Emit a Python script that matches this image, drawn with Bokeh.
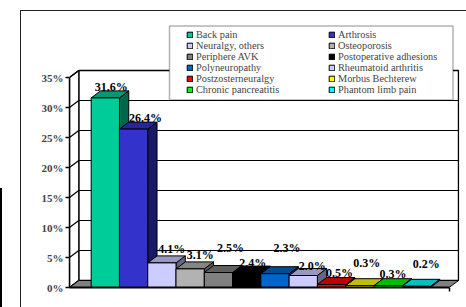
from bokeh.plotting import figure
from bokeh.models import (ColumnDataSource, FixedTicker, PrintfTickFormatter, Legend,
                          LegendItem, BoxAnnotation, Range1d, InlineStyleSheet)
from bokeh.core.properties import value
from bokeh.embed import file_html
from bokeh.resources import INLINE

# ---------------- data ----------------
categories = ["Back pain", "Arthrosis", "Neuralgy, others", "Osteoporosis",
              "Periphere AVK", "Postoperative adhesions", "Polyneuropathy",
              "Rheumatoid arthritis", "Postzosterneuralgy", "Morbus Bechterew",
              "Chronic pancreatitis", "Phantom limb pain"]
shares = [31.6, 26.4, 4.1, 3.1, 2.5, 2.4, 2.3, 2.0, 0.5, 0.3, 0.3, 0.2]
y_ticks = [0, 5, 10, 15, 20, 25, 30, 35]

# ---------------- styles / layout ----------------
colors = ["#00CC99", "#3333CC", "#CCCCFF", "#B2B2B2", "#808080", "#000000",
          "#0066CC", "#CCCCFF", "#FF0000", "#FFFF00", "#00FF00", "#00FFFF"]
label_dx = [6, 12, 10, 10, 12, 6, 12, 9, 8, 7, 5, 10]        # px nudges of value labels
label_dy = [-11, -11, -14, -14, -25, -10, -26, -10, -12, -23, -12, -22]

FONT = "Liberation Serif"
W, H = 466, 307
ML, MR, MT, MB = 69, 6, 12, 20
PX_CAT, PX_PCT = 28.275, 6.0
DX, DY = 9.3 / PX_CAT, 7.0 / PX_PCT          # oblique depth in data units
n = len(categories)
X_LEFT, X_RIGHT = -0.767, n + 0.66


def shade(hex_color, f):
    r, g, b = (int(hex_color[i:i + 2], 16) for i in (1, 3, 5))
    return "#%02x%02x%02x" % (int(r * f), int(g * f), int(b * f))


css = """
:host { position: relative; }
:host::before { content: ""; position: absolute; left: 19.5px; top: 9.5px;
  width: 446.5px; height: 297.5px; border-top: 1.5px solid #222;
  border-left: 1.5px solid #222; box-sizing: border-box; pointer-events: none; z-index: 5; }
:host::after { content: ""; position: absolute; left: 0px; top: 188px;
  width: 2px; height: 119px; background: #000; pointer-events: none; z-index: 5; }
"""

p = figure(width=W, height=H, output_backend="svg", toolbar_location=None,
           min_border_left=ML, min_border_right=MR, min_border_top=MT,
           min_border_bottom=MB,
           x_range=Range1d(X_LEFT, X_LEFT + (W - ML - MR) / PX_CAT),
           y_range=Range1d(0, (H - MT - MB) / PX_PCT),
           stylesheets=[InlineStyleSheet(css=css)])
p.outline_line_color = None
p.grid.visible = False
p.background_fill_color = "white"
p.border_fill_color = None

top = y_ticks[-1]
# back wall
p.patch([X_LEFT + DX, X_LEFT + DX, X_RIGHT + DX, X_RIGHT + DX],
        [DY, top + DY, top + DY, DY], fill_color="white", line_color="black", line_width=1.3)
# side wall
p.patch([X_LEFT, X_LEFT, X_LEFT + DX, X_LEFT + DX],
        [0, top, top + DY, DY], fill_color="white", line_color="black", line_width=1.3)
# grid lines on walls
p.multi_line([[X_LEFT, X_LEFT + DX, X_RIGHT + DX] for t in y_ticks],
             [[t, t + DY, t + DY] for t in y_ticks], line_color="black", line_width=1.2)
# floor
p.patch([X_LEFT, X_RIGHT, X_RIGHT + DX, X_LEFT + DX], [0, 0, DY, DY],
        fill_color="#808080", line_color="black", line_width=1)

# bars
idx = list(range(n))
side_xs = [[i + 1, i + 1, i + 1 + DX, i + 1 + DX] for i in idx]
side_ys = [[0, v, v + DY, DY] for v in shares]
top_xs = [[i, i + 1, i + 1 + DX, i + DX] for i in idx]
top_ys = [[v, v, v + DY, v + DY] for v in shares]
p.patches(side_xs, side_ys, fill_color=[shade(c, 0.5) for c in colors],
          line_color="black", line_width=1)
p.patches(top_xs, top_ys, fill_color=[shade(c, 0.75) for c in colors],
          line_color="black", line_width=1)
src = ColumnDataSource(dict(left=idx, right=[i + 1 for i in idx], top=shares,
                            color=colors, cat=categories))
fronts = p.quad(left="left", right="right", bottom=0, top="top", source=src,
                fill_color="color", line_color="black", line_width=1)

# value labels
lab = ColumnDataSource(dict(x=[i + 0.5 for i in idx], y=shares,
                            t=["%.1f%%" % v for v in shares], dx=label_dx, dy=label_dy))
p.text(x="x", y="y", text="t", source=lab, x_offset="dx", y_offset="dy",
       text_align="center", text_baseline="alphabetic", text_font=value(FONT),
       text_font_style="bold", text_font_size="12px", text_color="black")

# axes
p.yaxis.ticker = FixedTicker(ticks=y_ticks)
p.yaxis.formatter = PrintfTickFormatter(format="%d%%")
p.yaxis.bounds = (0, top)
p.yaxis.major_tick_out = 4
p.yaxis.major_tick_in = 0
p.yaxis.minor_tick_line_color = None
p.yaxis.axis_line_width = 1.5
p.yaxis.major_tick_line_width = 1.5
p.yaxis.major_label_standoff = 2
p.yaxis.major_label_text_font = FONT
p.yaxis.major_label_text_font_style = "bold"
p.yaxis.major_label_text_font_size = "11px"

p.xaxis.ticker = FixedTicker(ticks=[], minor_ticks=[X_RIGHT])
p.xaxis.bounds = (X_LEFT, X_RIGHT)
p.xaxis.minor_tick_out = 4
p.xaxis.minor_tick_in = 0
p.xaxis.minor_tick_line_width = 1.5
p.xaxis.major_tick_line_color = None
p.xaxis.axis_line_width = 2

# legend box
p.add_layout(BoxAnnotation(left=169, right=452.5, top=25.5, bottom=99.5,
                           left_units="canvas", right_units="canvas",
                           top_units="canvas", bottom_units="canvas",
                           fill_color="white", fill_alpha=1, line_color="black",
                           line_width=1.5))

items = [LegendItem(label=c, renderers=[fronts], index=i) for i, c in enumerate(categories)]
legend = Legend(items=items, orientation="horizontal", ncols=2, location=(117, 192),
                padding=0, spacing=0, margin=0, glyph_width=7, glyph_height=7,
                label_standoff=3, label_width=132, label_text_font=FONT,
                label_text_font_size="10.3px", border_line_alpha=0,
                background_fill_alpha=0)
p.add_layout(legend)

open("out.html", "w").write(file_html(p, INLINE))
